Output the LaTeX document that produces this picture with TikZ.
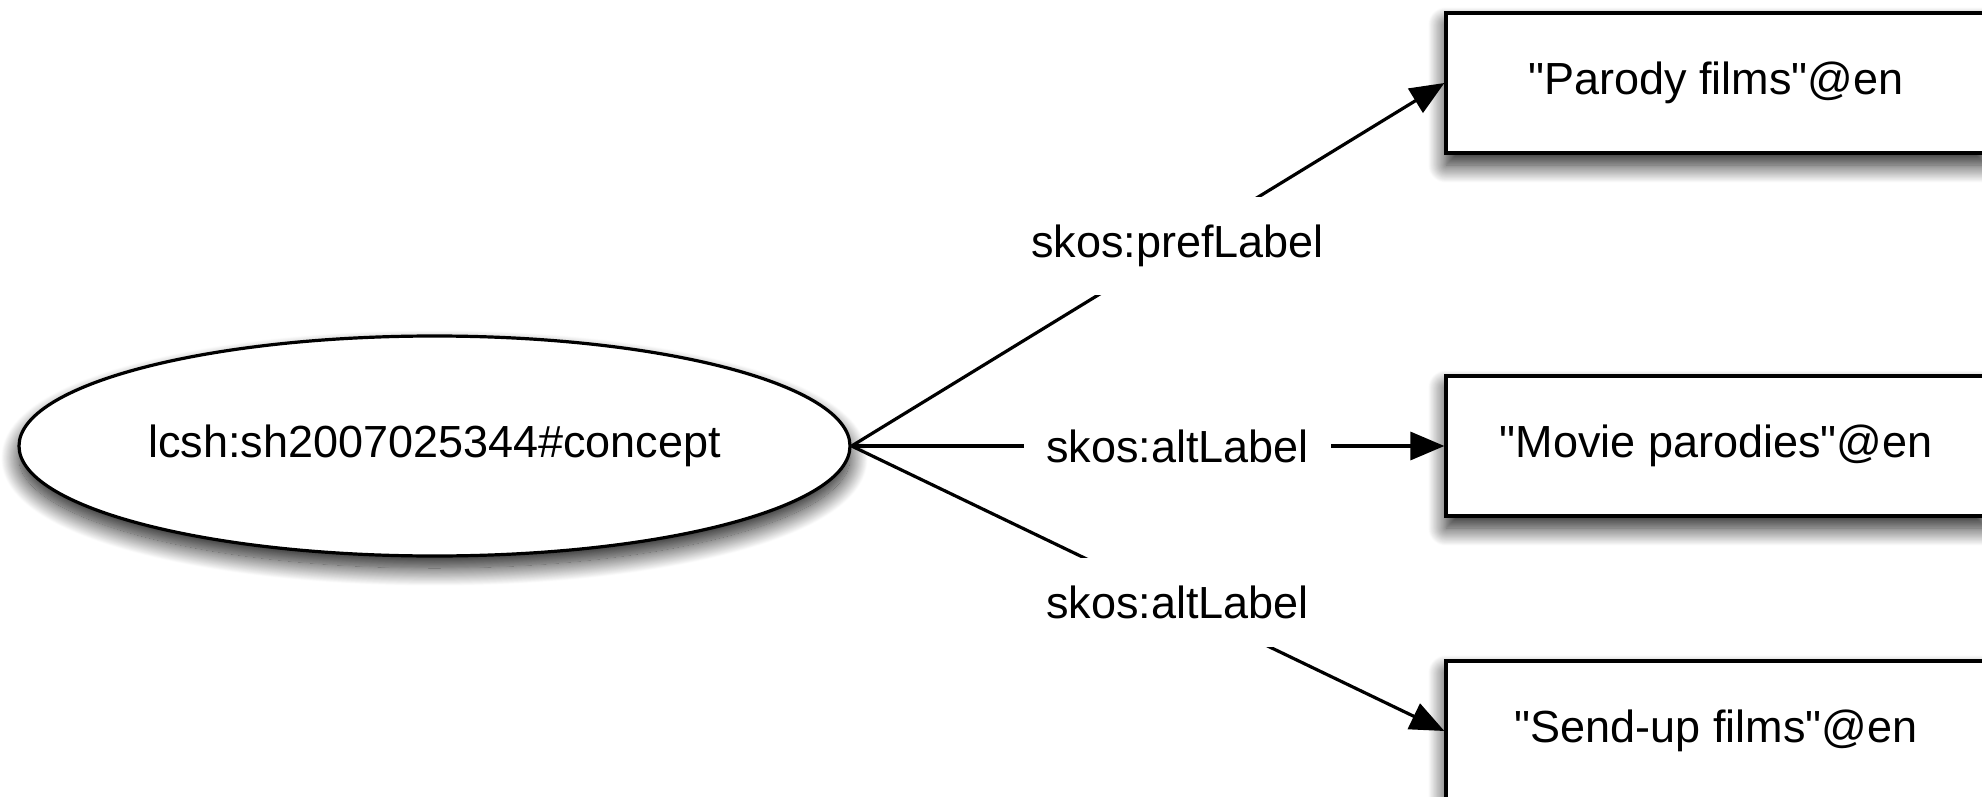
\documentclass[tikz,border=0pt]{standalone}
\usepackage{fontspec}
\setmainfont{Liberation Sans}
\usetikzlibrary{arrows.meta,shapes.geometric,shadows.blur}

\begin{document}
\begin{tikzpicture}[font=\fontsize{22.5}{27}\selectfont,
    line width=1.6pt,
    grow'=right, level distance=640.75pt,
    level 1/.style={sibling distance=142.5pt},
    parent anchor=east, child anchor=west,
    soft shadow/.style={blur shadow={shadow xshift=0pt, shadow yshift=-6pt,
        shadow blur radius=9pt, shadow blur steps=24, shadow opacity=90}},
    resource/.style={ellipse, draw, fill=white, soft shadow, inner sep=0pt,
        minimum width=415.5pt, minimum height=110pt},
    literal/.style={rectangle, draw, fill=white, soft shadow, inner sep=0pt,
        minimum width=270pt, minimum height=70pt},
    edgelabel/.style={fill=white, pos=0.55, inner xsep=11pt, inner ysep=14pt},
    edge from parent/.style={draw, -{Triangle[length=17pt,width=14pt]}}]

    \useasboundingbox (0,0) rectangle (991pt,-398.5pt);

    \node[resource] (concept) at (217.25pt,-223pt) {lcsh:sh2007025344\#concept}
        child {node[literal, yshift=39pt] (pref) {\textquotedbl Parody films\textquotedbl @en}
            edge from parent node[edgelabel] {skos:prefLabel}}
        child {node[literal] (altone) {\textquotedbl Movie parodies\textquotedbl @en}
            edge from parent node[edgelabel] {skos:altLabel}}
        child {node[literal] (alttwo) {\textquotedbl Send-up films\textquotedbl @en}
            edge from parent node[edgelabel] {skos:altLabel}};

\end{tikzpicture}
\end{document}
